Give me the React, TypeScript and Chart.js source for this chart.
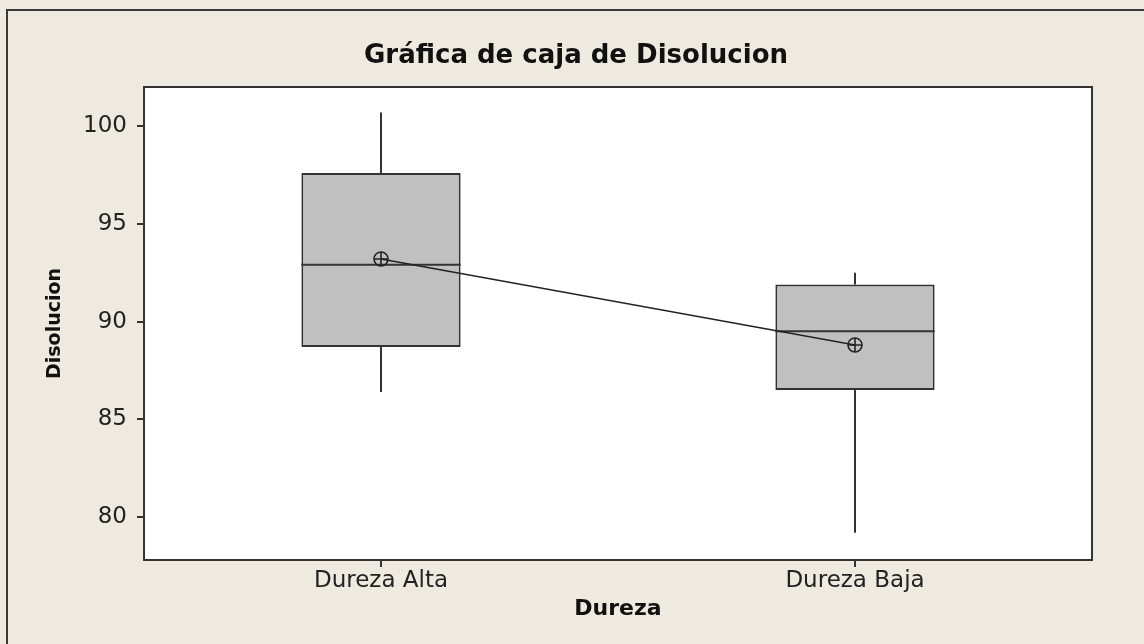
import React, { useEffect, useRef } from 'react';
import { Chart, registerables } from 'chart.js';

Chart.register(...registerables);

const categories = ['Dureza Alta', 'Dureza Baja'];
const q1Values = [88.7, 86.5];
const q3Values = [97.6, 91.9];
const medianValues = [92.9, 89.5];
const whiskerLow = [86.4, 79.2];
const whiskerHigh = [100.7, 92.5];
const meanValues = [93.2, 88.8];
const yTickValues = [80, 85, 90, 95, 100];
const yMin = 77.8;
const yMax = 102.0;

const titleText = 'Gráfica de caja de Disolucion';
const xTitle = 'Dureza';
const yTitle = 'Disolucion';

const FONT = '"DejaVu Sans", Verdana, sans-serif';
const LINE = '#333333';
const BG = '#EEEAE0';
const BOX_INDEX = 2;

const decorPlugin = {
  id: 'decor',
  beforeDraw(chart: any) {
    const { ctx, width, height, chartArea } = chart;
    ctx.save();
    ctx.fillStyle = BG;
    ctx.fillRect(0, 0, width, height);
    ctx.strokeStyle = '#3a3a3a';
    ctx.lineWidth = 2;
    ctx.beginPath();
    ctx.moveTo(7, height);
    ctx.lineTo(7, 10);
    ctx.lineTo(width, 10);
    ctx.stroke();
    ctx.fillStyle = '#ffffff';
    ctx.fillRect(chartArea.left, chartArea.top, chartArea.right - chartArea.left, chartArea.bottom - chartArea.top);
    ctx.fillStyle = '#111111';
    ctx.font = 'bold 26px ' + FONT;
    ctx.textAlign = 'center';
    ctx.textBaseline = 'middle';
    ctx.fillText(titleText, 576, 56);
    ctx.restore();
  },
  afterDatasetDraw(chart: any, args: any) {
    if (args.index !== BOX_INDEX) return;
    const { ctx } = chart;
    const xs = chart.scales.x;
    const ys = chart.scales.y;
    const meta = chart.getDatasetMeta(BOX_INDEX);
    ctx.save();
    ctx.strokeStyle = LINE;
    ctx.lineWidth = 2;
    categories.forEach((_, i) => {
      const cx = xs.getPixelForValue(i);
      const half = meta.data[i].width / 2;
      const seg = (x1: number, y1: number, x2: number, y2: number) => {
        ctx.beginPath();
        ctx.moveTo(x1, y1);
        ctx.lineTo(x2, y2);
        ctx.stroke();
      };
      seg(cx, ys.getPixelForValue(q3Values[i]), cx, ys.getPixelForValue(whiskerHigh[i]));
      seg(cx, ys.getPixelForValue(q1Values[i]), cx, ys.getPixelForValue(whiskerLow[i]));
      const my = ys.getPixelForValue(medianValues[i]);
      seg(cx - half, my, cx + half, my);
    });
    ctx.restore();
  },
  afterDraw(chart: any) {
    const { ctx, chartArea } = chart;
    ctx.save();
    ctx.strokeStyle = LINE;
    ctx.lineWidth = 2;
    ctx.strokeRect(chartArea.left, chartArea.top, chartArea.right - chartArea.left, chartArea.bottom - chartArea.top);
    ctx.restore();
  },
};

export default function App() {
  const canvasRef = useRef<HTMLCanvasElement | null>(null);

  useEffect(() => {
    if (!canvasRef.current) return;
    const chart = new Chart(canvasRef.current, {
      type: 'bar',
      data: {
        labels: categories,
        datasets: [
          {
            type: 'line',
            data: meanValues,
            borderColor: '#222222',
            borderWidth: 1.3,
            pointStyle: 'circle',
            pointRadius: 7,
            pointBorderWidth: 1.6,
            pointBorderColor: '#222222',
            pointBackgroundColor: 'rgba(0,0,0,0)',
          } as any,
          {
            type: 'line',
            data: meanValues,
            showLine: false,
            pointStyle: 'cross',
            pointRadius: 7,
            pointBorderWidth: 1.6,
            pointBorderColor: '#222222',
          } as any,
          {
            type: 'bar',
            data: categories.map((_, i) => [q1Values[i], q3Values[i]]),
            backgroundColor: '#C0C0C0',
            borderColor: LINE,
            borderWidth: 2,
            borderSkipped: false,
            barPercentage: 0.336,
            categoryPercentage: 1,
          } as any,
        ],
      },
      options: {
        responsive: false,
        animation: false,
        layout: { padding: { top: 87, right: 52, bottom: 0, left: 0 } },
        plugins: {
          legend: { display: false },
          tooltip: { enabled: false },
          title: { display: false },
        },
        scales: {
          x: {
            offset: true,
            grid: {
              display: true,
              offset: false,
              drawOnChartArea: false,
              drawTicks: true,
              tickLength: 7,
              color: LINE,
              lineWidth: 2,
            },
            border: { display: true, color: LINE, width: 2 },
            ticks: { font: { family: FONT, size: 23 }, color: '#222222', padding: 0 },
            title: {
              display: true,
              text: xTitle,
              font: { family: FONT, size: 22, weight: 'bold' },
              color: '#111111',
              padding: { top: 0, bottom: 22 },
            },
            afterFit(scale: any) {
              scale.height = 84;
            },
          },
          y: {
            min: yMin,
            max: yMax,
            afterBuildTicks(scale: any) {
              scale.ticks = yTickValues.map((v) => ({ value: v }));
            },
            grid: {
              display: true,
              drawOnChartArea: false,
              drawTicks: true,
              tickLength: 7,
              color: LINE,
              lineWidth: 2,
            },
            border: { display: true, color: LINE, width: 2 },
            ticks: { font: { family: FONT, size: 23 }, color: '#222222', padding: 10 },
            title: {
              display: true,
              text: yTitle,
              font: { family: FONT, size: 19, weight: 'bold' },
              color: '#111111',
              padding: { top: 44, bottom: 0 },
            },
            afterFit(scale: any) {
              scale.width = 144;
            },
          },
        },
      },
      plugins: [decorPlugin],
    } as any);
    return () => chart.destroy();
  }, []);

  return (
    <div style={{ position: 'fixed', left: 0, top: 0, width: 1144, height: 644 }}>
      <canvas ref={canvasRef} width={1144} height={644} style={{ display: 'block' }} />
    </div>
  );
}
